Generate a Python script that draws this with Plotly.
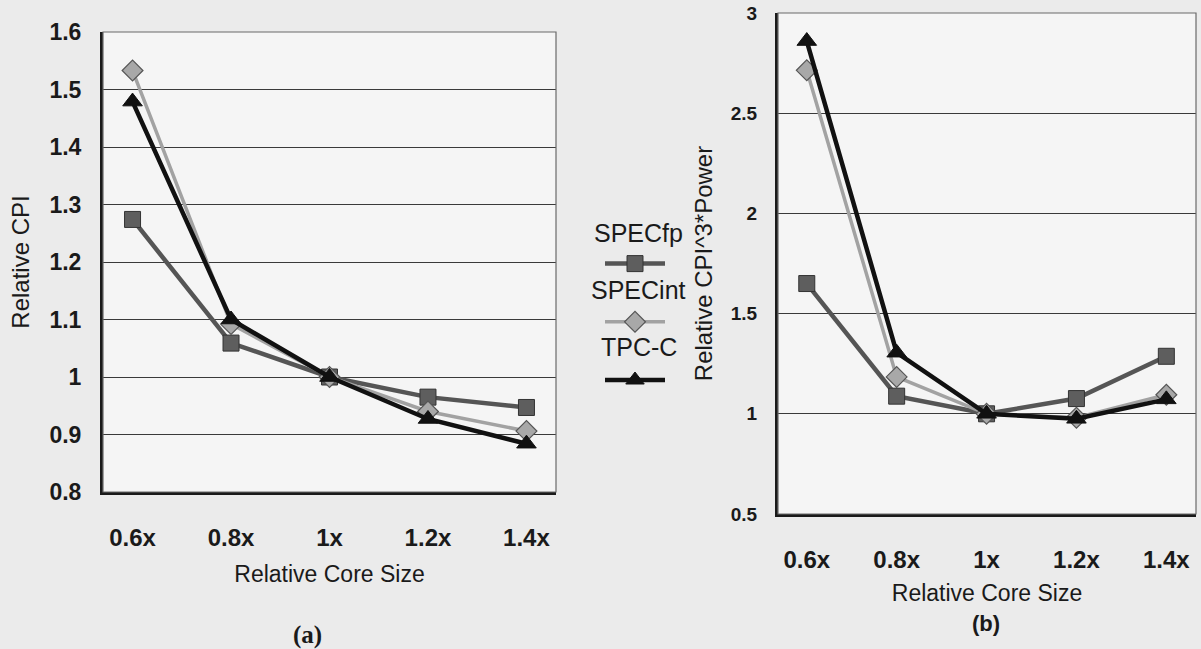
import plotly.graph_objects as go

categories = ["0.6x", "0.8x", "1x", "1.2x", "1.4x"]
series_names = ["SPECfp", "SPECint", "TPC-C"]

cpi_specfp = [1.274, 1.059, 1.0, 0.965, 0.947]
cpi_specint = [1.533, 1.092, 1.0, 0.940, 0.906]
cpi_tpcc = [1.479, 1.100, 1.0, 0.927, 0.884]

power_specfp = [1.650, 1.088, 1.0, 1.076, 1.287]
power_specint = [2.714, 1.184, 1.0, 0.980, 1.095]
power_tpcc = [2.860, 1.305, 1.0, 0.975, 1.072]

left_yticks = [0.8, 0.9, 1.0, 1.1, 1.2, 1.3, 1.4, 1.5, 1.6]
left_yticklabels = ["0.8", "0.9", "1", "1.1", "1.2", "1.3", "1.4", "1.5", "1.6"]
right_yticks = [0.5, 1.0, 1.5, 2.0, 2.5, 3.0]
right_yticklabels = ["0.5", "1", "1.5", "2", "2.5", "3"]

styles = [
    dict(line=dict(color="#555555", width=4.5),
         marker=dict(symbol="square", size=16, color="#5e5e5e",
                     line=dict(color="#333333", width=1))),
    dict(line=dict(color="#a2a2a2", width=3.5),
         marker=dict(symbol="diamond", size=16, color="#a8a8a8",
                     line=dict(color="#555555", width=1.2))),
    dict(line=dict(color="#111111", width=4.5),
         marker=dict(symbol="triangle-up", size=17, color="#111111",
                     line=dict(color="#111111", width=1))),
]

FONT = "Liberation Sans, Arial, Helvetica, sans-serif"

fig = go.Figure()
left_sets = [cpi_specfp, cpi_specint, cpi_tpcc]
right_sets = [power_specfp, power_specint, power_tpcc]
for i, name in enumerate(series_names):
    fig.add_trace(go.Scatter(x=categories, y=left_sets[i], name=name, mode="lines+markers",
                             xaxis="x", yaxis="y", legendgroup=name, showlegend=True,
                             **styles[i]))
for i, name in enumerate(series_names):
    fig.add_trace(go.Scatter(x=categories, y=right_sets[i], name=name, mode="lines+markers",
                             xaxis="x2", yaxis="y2", legendgroup=name, showlegend=False,
                             **styles[i]))

W, H = 1201, 649
def px_x(v):
    return v / W
def px_y(v):
    return 1 - v / H

axis_common = dict(showline=True, linecolor="#1a1a1a", linewidth=3, ticks="",
                   zeroline=False, fixedrange=True, automargin=False)

def label(text, x, y, size, family=FONT, weight="normal"):
    return dict(text=text, x=px_x(x), y=px_y(y), xref="paper", yref="paper",
                xanchor="center", yanchor="middle", showarrow=False,
                font=dict(size=size, family=family, weight=weight, color="#1a1a1a"))

fig.update_layout(
    width=W, height=H,
    margin=dict(l=0, r=0, t=0, b=0, autoexpand=False),
    paper_bgcolor="#ebebeb",
    plot_bgcolor="#f5f5f5",
    font=dict(family=FONT, color="#1a1a1a"),
    xaxis=dict(domain=[px_x(103), px_x(556)], anchor="y", type="category",
               categoryorder="array", categoryarray=categories,
               range=[-0.3, 4.3], showgrid=False,
               tickfont=dict(size=24, family=FONT, weight="bold"),
               ticklabelstandoff=22,
               title=dict(text="Relative Core Size", font=dict(size=23), standoff=17),
               **axis_common),
    yaxis=dict(domain=[px_y(492), px_y(32)], anchor="x", range=[0.8, 1.6],
               tickvals=left_yticks, ticktext=left_yticklabels,
               showgrid=True, gridcolor="#3a3a3a", gridwidth=1.2,
               tickfont=dict(size=23, family=FONT, weight="bold"),
               ticklabelstandoff=14,
               title=dict(text="Relative CPI", font=dict(size=24), standoff=14),
               **axis_common),
    xaxis2=dict(domain=[px_x(778), px_x(1196)], anchor="y2", type="category",
                categoryorder="array", categoryarray=categories,
                range=[-0.32, 4.33], showgrid=False,
                tickfont=dict(size=24, family=FONT, weight="bold"),
                ticklabelstandoff=22,
                title=dict(text="Relative Core Size", font=dict(size=23), standoff=14),
                **axis_common),
    yaxis2=dict(domain=[px_y(514), px_y(13)], anchor="x2", range=[0.5, 3.0],
                tickvals=right_yticks, ticktext=right_yticklabels,
                showgrid=True, gridcolor="#3a3a3a", gridwidth=1.2,
                tickfont=dict(size=19, family=FONT, weight="bold"),
                ticklabelstandoff=14,
                title=dict(text="Relative CPI^3*Power", font=dict(size=24), standoff=12),
                **axis_common),
    showlegend=True,
    legend=dict(x=px_x(600), y=px_y(248), xanchor="left", yanchor="top",
                bgcolor="rgba(0,0,0,0)", itemwidth=60, tracegroupgap=37,
                font=dict(size=14, color="rgba(0,0,0,0)"), itemclick=False,
                itemdoubleclick=False),
    shapes=[
        dict(type="rect", xref="x domain", yref="y domain", x0=0, x1=1, y0=0, y1=1,
             line=dict(color="#6a6a6a", width=1.2), layer="above"),
        dict(type="rect", xref="x2 domain", yref="y2 domain", x0=0, x1=1, y0=0, y1=1,
             line=dict(color="#6a6a6a", width=1.2), layer="above"),
    ],
    annotations=[
        label("SPECfp", 639, 233, 25),
        label("SPECint", 639, 290, 25),
        label("TPC-C", 639, 347, 25),
        label("(a)", 307, 635, 25, family="Liberation Serif, Times New Roman, serif", weight="bold"),
        label("(b)", 986, 623, 22, weight="bold"),
    ],
)

fig.write_html("out.html", config={"displayModeBar": False},
               post_script="document.body.style.margin='0';document.body.style.overflow='hidden';")
